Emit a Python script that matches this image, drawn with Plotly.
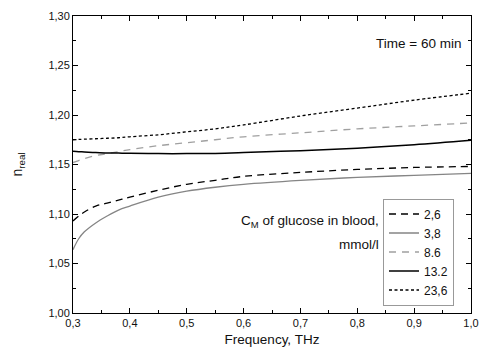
import plotly.graph_objects as go

freq = [0.30, 0.31, 0.32, 0.34, 0.36, 0.38, 0.40, 0.45, 0.50, 0.55, 0.60, 0.70, 0.80, 0.90, 1.00]

n_2_6 = [1.093, 1.098, 1.102, 1.108, 1.111, 1.114, 1.117, 1.124, 1.130, 1.134, 1.138, 1.142, 1.145, 1.147, 1.148]
n_3_8 = [1.064, 1.075, 1.082, 1.091, 1.098, 1.104, 1.108, 1.117, 1.123, 1.127, 1.130, 1.134, 1.137, 1.139, 1.141]
n_8_6 = [1.152, 1.154, 1.156, 1.159, 1.161, 1.163, 1.165, 1.169, 1.172, 1.175, 1.178, 1.182, 1.186, 1.189, 1.192]
n_13_2 = [1.1635, 1.163, 1.1627, 1.162, 1.1617, 1.1615, 1.1613, 1.161, 1.161, 1.1612, 1.162, 1.164, 1.1665, 1.170, 1.1745]
n_23_6 = [1.175, 1.1753, 1.1756, 1.176, 1.1765, 1.177, 1.178, 1.180, 1.183, 1.186, 1.190, 1.199, 1.207, 1.215, 1.222]

names = ["2,6", "3,8", "8.6", "13.2", "23,6"]
series = [n_2_6, n_3_8, n_8_6, n_13_2, n_23_6]
styles = [
    dict(color="black", width=1.3, dash="7px,5px"),
    dict(color="#858585", width=1.3, dash="solid"),
    dict(color="#a0a0a0", width=1.3, dash="7px,6px"),
    dict(color="black", width=1.5, dash="solid"),
    dict(color="black", width=1.3, dash="3px,2.5px"),
]

fig = go.Figure()
for nm, ys, st in zip(names, series, styles):
    fig.add_trace(go.Scatter(x=freq, y=ys, name=nm, mode="lines",
                             line=dict(shape="spline", **st)))

axis_common = dict(
    showline=True, linecolor="black", linewidth=1, mirror="allticks",
    ticks="inside", ticklen=5, tickcolor="black", tickwidth=1,
    showgrid=False, zeroline=False, automargin=False,
    tickfont=dict(family="Liberation Sans, Arial", size=11, color="#111"),
)

fig.update_layout(
    width=480, height=354,
    margin=dict(l=73, r=9, t=16, b=41),
    paper_bgcolor="white", plot_bgcolor="white",
    separators=", ",
    font=dict(family="Liberation Sans, Arial", size=13, color="#111"),
    xaxis=dict(range=[0.3, 1.0], dtick=0.1, tick0=0.3, tickformat=".1f",
               minor=dict(ticks="inside", ticklen=3, dtick=0.05, tickcolor="black"),
               title=dict(text="Frequency, THz", font=dict(size=13.5), standoff=6),
               **axis_common),
    yaxis=dict(range=[1.0, 1.3], dtick=0.05, tick0=1.0, tickformat=".2f",
               minor=dict(ticks="inside", ticklen=3, dtick=0.025, tickcolor="black"),
               title=dict(text="n<sub>real</sub>", font=dict(size=14), standoff=22),
               **axis_common),
    legend=dict(x=(454 - 73) / 398, xanchor="right", y=(313 - 252) / 297, yanchor="middle",
                bordercolor="#999", borderwidth=1, bgcolor="white",
                font=dict(size=12, color="#111"), tracegroupgap=0,
                itemwidth=30),
    showlegend=True,
)

fig.add_annotation(text="Time = 60 min", xref="paper", yref="paper",
                   x=(463 - 73) / 398, y=(313 - 43) / 297, xanchor="right", yanchor="middle",
                   showarrow=False, font=dict(size=13.5))
fig.add_annotation(text="C<sub>M</sub> of glucose in blood,", xref="paper", yref="paper",
                   x=(381 - 73) / 398, y=(313 - 222) / 297, xanchor="right", yanchor="middle",
                   showarrow=False, font=dict(size=13.5))
fig.add_annotation(text="mmol/l", xref="paper", yref="paper",
                   x=(381 - 73) / 398, y=(313 - 244) / 297, xanchor="right", yanchor="middle",
                   showarrow=False, font=dict(size=13.5))

fig.write_html("out.html")
